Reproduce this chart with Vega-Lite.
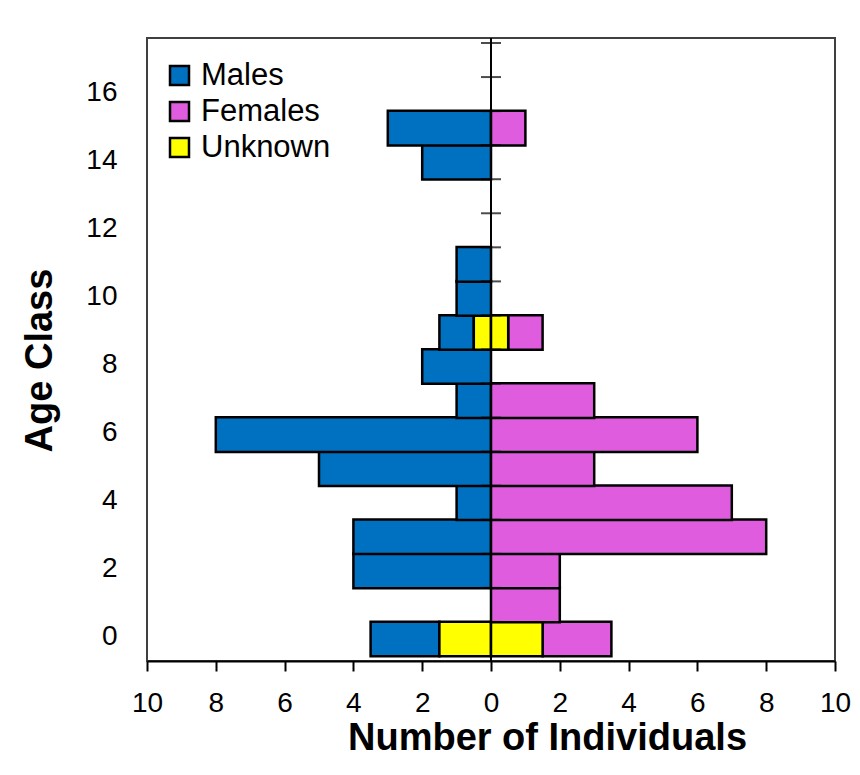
{
  "$schema": "https://vega.github.io/schema/vega-lite/v6.json",
  "width": 688,
  "height": 623,
  "autosize": {"type": "none"},
  "padding": {"left": 147, "top": 38, "right": 25, "bottom": 114},
  "background": "white",
  "config": {
    "font": "Liberation Sans",
    "view": {"stroke": "#404040", "strokeWidth": 2}
  },
  "datasets": {
    "pop": [
      {"age": 0, "sex": "Males", "n": -2},
      {"age": 0, "sex": "Females", "n": 2},
      {"age": 0, "sex": "Unknown", "n": -1.5},
      {"age": 0, "sex": "Unknown", "n": 1.5},
      {"age": 1, "sex": "Females", "n": 2},
      {"age": 2, "sex": "Males", "n": -4},
      {"age": 2, "sex": "Females", "n": 2},
      {"age": 3, "sex": "Males", "n": -4},
      {"age": 3, "sex": "Females", "n": 8},
      {"age": 4, "sex": "Males", "n": -1},
      {"age": 4, "sex": "Females", "n": 7},
      {"age": 5, "sex": "Males", "n": -5},
      {"age": 5, "sex": "Females", "n": 3},
      {"age": 6, "sex": "Males", "n": -8},
      {"age": 6, "sex": "Females", "n": 6},
      {"age": 7, "sex": "Males", "n": -1},
      {"age": 7, "sex": "Females", "n": 3},
      {"age": 8, "sex": "Males", "n": -2},
      {"age": 9, "sex": "Males", "n": -1},
      {"age": 9, "sex": "Females", "n": 1},
      {"age": 9, "sex": "Unknown", "n": -0.5},
      {"age": 9, "sex": "Unknown", "n": 0.5},
      {"age": 10, "sex": "Males", "n": -1},
      {"age": 11, "sex": "Males", "n": -1},
      {"age": 14, "sex": "Males", "n": -2},
      {"age": 15, "sex": "Males", "n": -3},
      {"age": 15, "sex": "Females", "n": 1}
    ],
    "bounds": [
      {"b": -0.5}, {"b": 0.5}, {"b": 1.5}, {"b": 2.5}, {"b": 3.5}, {"b": 4.5},
      {"b": 5.5}, {"b": 6.5}, {"b": 7.5}, {"b": 8.5}, {"b": 9.5}, {"b": 10.5},
      {"b": 11.5}, {"b": 12.5}, {"b": 13.5}, {"b": 14.5}, {"b": 15.5}, {"b": 16.5}, {"b": 17.5}
    ]
  },
  "layer": [
    {
      "data": {"name": "pop"},
      "mark": {"type": "bar", "orient": "horizontal", "size": 34.6, "stroke": "black", "strokeWidth": 2.5},
      "encoding": {
        "y": {
          "field": "age",
          "type": "quantitative",
          "title": "Age Class",
          "scale": {"domain": [-0.5, 17.5], "nice": false, "zero": false},
          "axis": {
            "values": [0, 2, 4, 6, 8, 10, 12, 14, 16],
            "grid": false,
            "domain": false,
            "ticks": false,
            "tickSize": 0,
            "labelPadding": 30,
            "labelOffset": -2,
            "labelFontSize": 28,
            "labelColor": "black",
            "titleFontSize": 38,
            "titleFontWeight": "bold",
            "titleColor": "black",
            "titleX": -96,
            "titleY": 322,
            "titleAlign": "center",
            "titleBaseline": "alphabetic"
          }
        },
        "x": {
          "field": "n",
          "type": "quantitative",
          "stack": "zero",
          "title": "Number of Individuals",
          "scale": {"domain": [-10, 10], "nice": false},
          "axis": {
            "values": [-10, -8, -6, -4, -2, 0, 2, 4, 6, 8, 10],
            "labelExpr": "abs(datum.value)",
            "grid": false,
            "domainColor": "black",
            "domainWidth": 2,
            "tickColor": "black",
            "tickWidth": 2,
            "tickSize": 10,
            "labelPadding": 18,
            "labelFontSize": 28,
            "labelColor": "black",
            "labelFlush": false,
            "labelOverlap": false,
            "titleFontSize": 38,
            "titleFontWeight": "bold",
            "titleColor": "black",
            "titleX": 400,
            "titleY": 88,
            "titleAlign": "center",
            "titleBaseline": "alphabetic"
          }
        },
        "color": {
          "field": "sex",
          "type": "nominal",
          "scale": {"domain": ["Males", "Females", "Unknown"], "range": ["#0070C0", "#DF5CDF", "#FFFF00"]},
          "legend": {
            "orient": "none",
            "legendX": 17,
            "legendY": 22,
            "title": null,
            "symbolType": "square",
            "symbolSize": 361,
            "symbolStrokeColor": "black",
            "symbolStrokeWidth": 2.5,
            "symbolOpacity": 1,
            "labelFontSize": 31,
            "labelColor": "black",
            "labelOffset": 6,
            "rowPadding": 4
          }
        },
        "order": {"field": "sex", "sort": "descending"}
      }
    },
    {
      "data": {"values": [{}]},
      "mark": {"type": "rule", "color": "black", "strokeWidth": 2},
      "encoding": {
        "x": {"datum": 0, "type": "quantitative", "title": "Number of Individuals"}
      }
    },
    {
      "data": {"name": "bounds"},
      "mark": {"type": "tick", "orient": "horizontal", "color": "black", "size": 20, "thickness": 2},
      "encoding": {
        "x": {"datum": 0, "type": "quantitative", "title": "Number of Individuals"},
        "y": {"field": "b", "type": "quantitative", "title": "Age Class"}
      }
    }
  ]
}
